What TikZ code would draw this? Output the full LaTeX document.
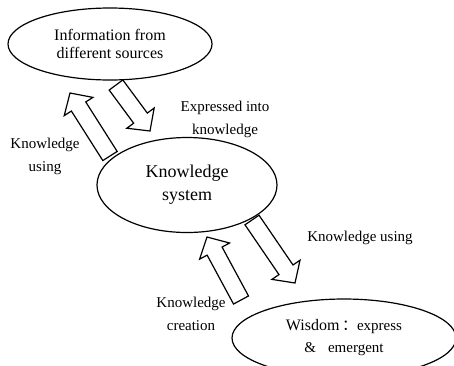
\documentclass[tikz,border=0pt]{standalone}
\usepackage{fontspec}
\setmainfont{Liberation Serif}
\newfontfamily\cjk{Noto Sans CJK SC}
\usepackage{tikz}
\usetikzlibrary{shapes.geometric,calc}

\newcommand{\bigarrow}[2]{%
  \coordinate (neck) at ($(#2)!16pt!(#1)$);
  \draw[blockarrow] ($(#1)!8.5pt!90:(#2)$) -- ($(neck)!8.5pt!-90:(#1)$) -- ($(neck)!17pt!-90:(#1)$) -- (#2)
     -- ($(neck)!17pt!90:(#1)$) -- ($(neck)!8.5pt!90:(#1)$) -- ($(#1)!8.5pt!-90:(#2)$) -- cycle;
}

\begin{document}
\begin{tikzpicture}[x=1pt,y=-1pt,
   bubble/.style={draw, ellipse, line width=1.2pt, align=center, inner sep=0pt},
   lbl/.style={align=center, font=\fontsize{15}{23}\selectfont},
   blockarrow/.style={draw, line width=1.2pt, fill=white, line join=miter}]
   \clip (0,0) rectangle (454,365);

   \node[bubble, minimum width=204, minimum height=72, font=\fontsize{16}{18}\selectfont] (info) at (110,44) {Information from\\different sources};
   \node[bubble, minimum width=180, minimum height=95, font=\fontsize{18}{23}\selectfont] (sys) at (187,185) {Knowledge\\system};
   \node[bubble, minimum width=224, minimum height=78, font=\fontsize{15}{22}\selectfont] (wis) at (344,338) {{\fontsize{16}{22}\selectfont Wisdom}\,{\cjk ：}express\\\&\hspace{12pt}emergent};

   \coordinate (a1) at (110,156); \coordinate (a2) at (70,93);
   \coordinate (b1) at (116,85);  \coordinate (b2) at (150,131);
   \coordinate (c1) at (241,300); \coordinate (c2) at (207,237);
   \coordinate (d1) at (252,220); \coordinate (d2) at (295,283);
   \bigarrow{a1}{a2}
   \bigarrow{b1}{b2}
   \bigarrow{c1}{c2}
   \bigarrow{d1}{d2}

   \node[lbl] (useup) at (45,156) {Knowledge\\using};
   \node[lbl] (expr) at (225,119) {Expressed into\\knowledge};
   \node[lbl] (usedown) at (360,238) {Knowledge using};
   \node[lbl] (create) at (191,314) {Knowledge\\creation};
\end{tikzpicture}
\end{document}
